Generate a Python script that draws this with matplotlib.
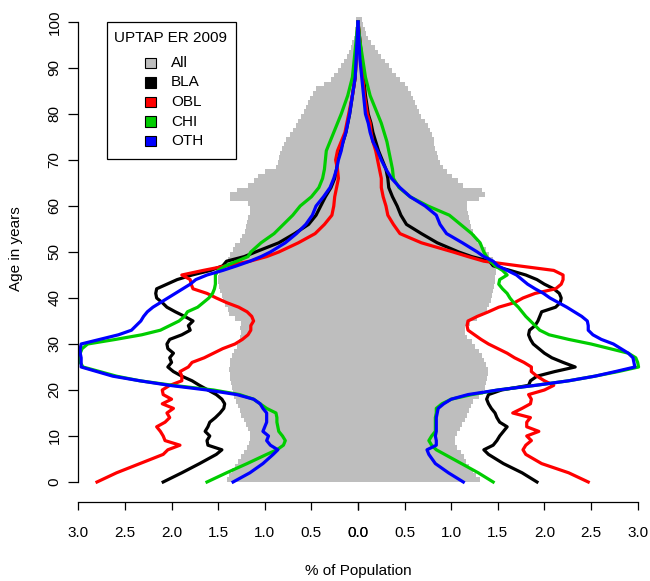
import numpy as np
import matplotlib
matplotlib.use("Agg")
import matplotlib.pyplot as plt
from matplotlib.patches import Rectangle

plt.rcParams['font.family'] = ['Liberation Sans', 'DejaVu Sans']
plt.rcParams['font.size'] = 11

# single-year ages for the "All" bars, % of population
ages_all = np.arange(0, 101)
all_left = [1.41, 1.38, 1.35, 1.32, 1.29, 1.26, 1.22, 1.19, 1.17, 1.16,
            1.16, 1.18, 1.20, 1.22, 1.25, 1.27, 1.29, 1.31, 1.33, 1.34,
            1.35, 1.36, 1.37, 1.37, 1.38, 1.37, 1.37, 1.35, 1.33, 1.30,
            1.28, 1.27, 1.26, 1.27, 1.25, 1.32, 1.38, 1.40, 1.43, 1.45,
            1.46, 1.48, 1.49, 1.50, 1.50, 1.49, 1.47, 1.43, 1.40, 1.37,
            1.34, 1.32, 1.27, 1.24, 1.21, 1.20, 1.19, 1.18, 1.16, 1.16,
            1.18, 1.37, 1.37, 1.30, 1.18, 1.12, 1.07, 1.00, 0.88, 0.86,
            0.85, 0.84, 0.82, 0.79, 0.77, 0.73, 0.70, 0.67, 0.64, 0.61,
            0.58, 0.56, 0.54, 0.51, 0.48, 0.45, 0.36, 0.29, 0.26, 0.21,
            0.18, 0.15, 0.12, 0.10, 0.08, 0.06, 0.04, 0.03, 0.03, 0.02,
            0.02]
all_right = [1.31, 1.27, 1.23, 1.19, 1.16, 1.14, 1.10, 1.06, 1.04, 1.04,
             1.06, 1.09, 1.12, 1.15, 1.17, 1.19, 1.21, 1.23, 1.30, 1.34,
             1.36, 1.37, 1.38, 1.39, 1.39, 1.37, 1.35, 1.33, 1.30, 1.26,
             1.22, 1.17, 1.15, 1.15, 1.20, 1.28, 1.34, 1.38, 1.41, 1.43,
             1.44, 1.45, 1.46, 1.47, 1.47, 1.48, 1.48, 1.47, 1.45, 1.41,
             1.37, 1.33, 1.28, 1.25, 1.23, 1.21, 1.20, 1.19, 1.18, 1.17,
             1.17, 1.30, 1.36, 1.33, 1.13, 1.07, 1.01, 0.95, 0.91, 0.88,
             0.86, 0.85, 0.83, 0.82, 0.81, 0.79, 0.77, 0.75, 0.72, 0.68,
             0.65, 0.63, 0.61, 0.59, 0.57, 0.54, 0.50, 0.45, 0.41, 0.37,
             0.33, 0.29, 0.25, 0.21, 0.18, 0.14, 0.11, 0.09, 0.07, 0.05,
             0.04]

# ages at which the group profiles are given
ages = [0, 2, 4, 6, 7, 8, 9, 10, 11, 12, 13, 14, 15, 16, 17, 18, 19, 20,
        21, 22, 23, 24, 25, 26, 27, 28, 29, 30, 31, 32, 33, 34, 35, 36, 37,
        38, 39, 40, 41, 42, 43, 44, 45, 46, 47, 48, 49, 50, 52, 54, 56, 58,
        60, 62, 64, 66, 68, 70, 72, 74, 76, 78, 80, 84, 88, 92, 96, 100]

bla_left = [2.09, 1.89, 1.70, 1.52, 1.46, 1.61, 1.62, 1.59, 1.64, 1.61, 1.59,
            1.53, 1.48, 1.44, 1.43, 1.46, 1.52, 1.61, 1.70, 1.78, 1.89, 1.98,
            2.04, 2.00, 2.02, 1.98, 2.04, 2.05, 2.02, 1.89, 1.80, 1.82, 1.77,
            1.86, 1.96, 2.05, 2.10, 2.16, 2.17, 2.16, 2.05, 1.94, 1.78, 1.58,
            1.45, 1.41, 1.22, 1.10, 0.85, 0.68, 0.53, 0.45, 0.40, 0.35, 0.29,
            0.25, 0.23, 0.22, 0.19, 0.16, 0.13, 0.11, 0.09, 0.06, 0.03, 0.02,
            0.01, 0.0]
obl_left = [2.80, 2.59, 2.34, 2.09, 2.04, 1.91, 2.07, 2.09, 2.12, 2.16, 2.07,
            2.02, 2.05, 1.98, 2.10, 2.00, 2.09, 2.10, 2.02, 1.89, 1.89, 1.91,
            1.82, 1.78, 1.65, 1.55, 1.45, 1.32, 1.24, 1.18, 1.15, 1.15, 1.12,
            1.14, 1.19, 1.28, 1.41, 1.52, 1.62, 1.77, 1.79, 1.80, 1.89, 1.66,
            1.41, 1.16, 0.98, 0.85, 0.64, 0.46, 0.36, 0.28, 0.26, 0.25, 0.23,
            0.21, 0.22, 0.24, 0.22, 0.18, 0.14, 0.12, 0.10, 0.06, 0.03, 0.02,
            0.01, 0.0]
chi_left = [1.62, 1.41, 1.19, 0.98, 0.87, 0.80, 0.78, 0.81, 0.85, 0.86, 0.87,
            0.87, 0.88, 0.98, 1.05, 1.12, 1.27, 1.55, 1.98, 2.34, 2.59, 2.77,
            2.95, 2.98, 2.98, 2.98, 2.96, 2.90, 2.60, 2.32, 2.12, 2.02, 1.92,
            1.86, 1.83, 1.72, 1.66, 1.60, 1.56, 1.54, 1.53, 1.53, 1.53, 1.50,
            1.42, 1.30, 1.18, 1.15, 1.04, 0.90, 0.80, 0.70, 0.62, 0.50, 0.42,
            0.38, 0.36, 0.35, 0.34, 0.30, 0.26, 0.22, 0.18, 0.11, 0.06, 0.04,
            0.02, 0.0]
oth_left = [1.34, 1.16, 1.02, 0.91, 0.86, 0.94, 0.98, 0.96, 1.02, 1.00, 0.98,
            0.98, 0.98, 1.02, 1.05, 1.12, 1.30, 1.62, 2.02, 2.34, 2.63, 2.80,
            2.97, 2.97, 2.97, 2.98, 2.98, 2.97, 2.77, 2.57, 2.43, 2.38, 2.33,
            2.30, 2.26, 2.20, 2.12, 2.04, 1.96, 1.88, 1.80, 1.74, 1.62, 1.45,
            1.30, 1.16, 1.04, 0.94, 0.78, 0.66, 0.56, 0.49, 0.45, 0.37, 0.30,
            0.26, 0.23, 0.21, 0.18, 0.16, 0.13, 0.11, 0.09, 0.06, 0.03, 0.02,
            0.01, 0.0]

bla_right = [1.92, 1.76, 1.56, 1.40, 1.35, 1.45, 1.49, 1.52, 1.56, 1.60, 1.52,
             1.49, 1.47, 1.43, 1.40, 1.38, 1.40, 1.54, 1.83, 1.85, 1.92, 2.11,
             2.33, 2.20, 2.08, 2.00, 1.94, 1.88, 1.85, 1.83, 1.84, 1.90, 1.93,
             1.95, 1.97, 2.12, 2.17, 2.18, 2.16, 2.10, 2.00, 1.92, 1.80, 1.63,
             1.45, 1.41, 1.22, 1.08, 0.85, 0.68, 0.52, 0.46, 0.42, 0.37, 0.33,
             0.32, 0.30, 0.26, 0.22, 0.19, 0.16, 0.14, 0.11, 0.08, 0.06, 0.04,
             0.02, 0.0]
obl_right = [2.47, 2.26, 1.97, 1.80, 1.77, 1.80, 1.86, 1.81, 1.94, 1.81, 1.81,
             1.85, 1.66, 1.76, 1.85, 1.86, 1.83, 2.00, 2.10, 2.00, 1.92, 1.86,
             1.86, 1.78, 1.68, 1.60, 1.50, 1.40, 1.32, 1.25, 1.18, 1.17, 1.18,
             1.28, 1.40, 1.51, 1.68, 1.77, 1.90, 2.12, 2.18, 2.20, 2.20, 2.10,
             1.72, 1.35, 1.18, 1.02, 0.68, 0.45, 0.38, 0.32, 0.30, 0.27, 0.25,
             0.25, 0.23, 0.21, 0.19, 0.16, 0.14, 0.13, 0.10, 0.07, 0.05, 0.03,
             0.02, 0.0]
chi_right = [1.45, 1.29, 1.11, 0.93, 0.84, 0.79, 0.76, 0.79, 0.83, 0.83, 0.83,
             0.83, 0.84, 0.84, 0.90, 1.00, 1.22, 1.50, 1.90, 2.26, 2.54, 2.79,
             3.01, 3.00, 2.98, 2.90, 2.70, 2.50, 2.26, 2.05, 1.95, 1.90, 1.85,
             1.80, 1.76, 1.72, 1.67, 1.63, 1.60, 1.55, 1.51, 1.52, 1.60, 1.55,
             1.47, 1.42, 1.38, 1.35, 1.31, 1.22, 1.10, 0.98, 0.75, 0.56, 0.44,
             0.38, 0.37, 0.35, 0.33, 0.31, 0.28, 0.25, 0.21, 0.13, 0.08, 0.05,
             0.02, 0.0]
oth_right = [1.13, 0.97, 0.83, 0.76, 0.74, 0.84, 0.84, 0.83, 0.84, 0.84, 0.84,
             0.84, 0.85, 0.86, 0.92, 1.00, 1.18, 1.50, 1.90, 2.26, 2.54, 2.76,
             2.97, 2.96, 2.95, 2.90, 2.82, 2.74, 2.61, 2.52, 2.47, 2.47, 2.46,
             2.40, 2.32, 2.24, 2.15, 2.06, 1.99, 1.90, 1.82, 1.76, 1.70, 1.60,
             1.50, 1.45, 1.35, 1.28, 1.12, 0.95, 0.88, 0.84, 0.72, 0.56, 0.45,
             0.36, 0.30, 0.25, 0.21, 0.16, 0.13, 0.11, 0.08, 0.06, 0.04, 0.02,
             0.01, 0.0]

groups = ["BLA", "OBL", "CHI", "OTH"]
colors = ["black", "#FF0000", "#00CD00", "#0000FF"]
left_vals = [bla_left, obl_left, chi_left, oth_left]
right_vals = [bla_right, obl_right, chi_right, oth_right]

xticks = [-3.0, -2.5, -2.0, -1.5, -1.0, -0.5, 0.0, 0.0, 0.5, 1.0, 1.5, 2.0, 2.5, 3.0]

W, H = 650, 581
fig = plt.figure(figsize=(W / 100, H / 100), dpi=100)
ax = fig.add_axes([73.7 / W, 79 / H, 568.6 / W, 498.4 / H])

# pyramid of the whole population
ax.barh(ages_all, -np.array(all_left), height=1.0, align='edge',
        color='#BEBEBE', linewidth=0)
ax.barh(ages_all, all_right, height=1.0, align='edge',
        color='#BEBEBE', linewidth=0)

for lv, rv, c in zip(left_vals, right_vals, colors):
    ax.plot(-np.array(lv), ages, color=c, lw=2.3, clip_on=False,
            solid_joinstyle='round')
    ax.plot(rv, ages, color=c, lw=2.3, clip_on=False,
            solid_joinstyle='round')

ax.set_xlim(-3.05, 3.05)
ax.set_ylim(-4.35, 104)
for s in ['top', 'right']:
    ax.spines[s].set_visible(False)
ax.spines['left'].set_position(('data', -3.0))
ax.spines['left'].set_bounds(0, 100)
ax.spines['bottom'].set_bounds(-3, 3)
ax.spines['left'].set_linewidth(0.9)
ax.spines['bottom'].set_linewidth(0.9)

ax.set_xticks(xticks)
ax.set_xticklabels(["%.1f" % abs(v) for v in xticks])
ax.set_yticks(range(0, 101, 10))
ax.set_yticklabels([str(v) for v in range(0, 101, 10)], rotation=90,
                   va='center')
ax.tick_params(axis='x', length=6, width=0.9, pad=11, labelsize=11)
ax.tick_params(axis='y', length=7, width=0.9, pad=5, labelsize=11)

fig.text(358 / W, 1 - 571 / H, "% of Population", ha='center',
         va='center', fontsize=11)
fig.text(16 / W, 1 - 249 / H, "Age in years", ha='center', va='center',
         rotation=90, fontsize=11)


def px(x, y):
    # pixel position measured from the top-left corner -> figure fraction
    return x / W, 1 - y / H


# legend box drawn by hand
fx, fy = px(107, 159)
fig.add_artist(Rectangle((fx, fy), (236 - 107) / W, (159 - 22) / H,
                         transform=fig.transFigure, facecolor='white',
                         edgecolor='black', linewidth=0.9, zorder=5))
tx, ty = px(171, 38)
fig.text(tx, ty, "UPTAP ER 2009", ha='center', va='center', fontsize=11,
         zorder=6)
labels = ["All"] + groups
fills = ['#BEBEBE'] + colors
for i, (lab, fc) in enumerate(zip(labels, fills)):
    yc = 63 + i * 19.5
    sx, sy = px(145, yc + 5)
    fig.add_artist(Rectangle((sx, sy), 10.5 / W, 10.5 / H,
                             transform=fig.transFigure, facecolor=fc,
                             edgecolor='black', linewidth=0.8, zorder=6))
    lx, ly = px(171, yc)
    fig.text(lx, ly, lab, ha='left', va='center', fontsize=11, zorder=6)

fig.savefig("out.png", dpi=100)
